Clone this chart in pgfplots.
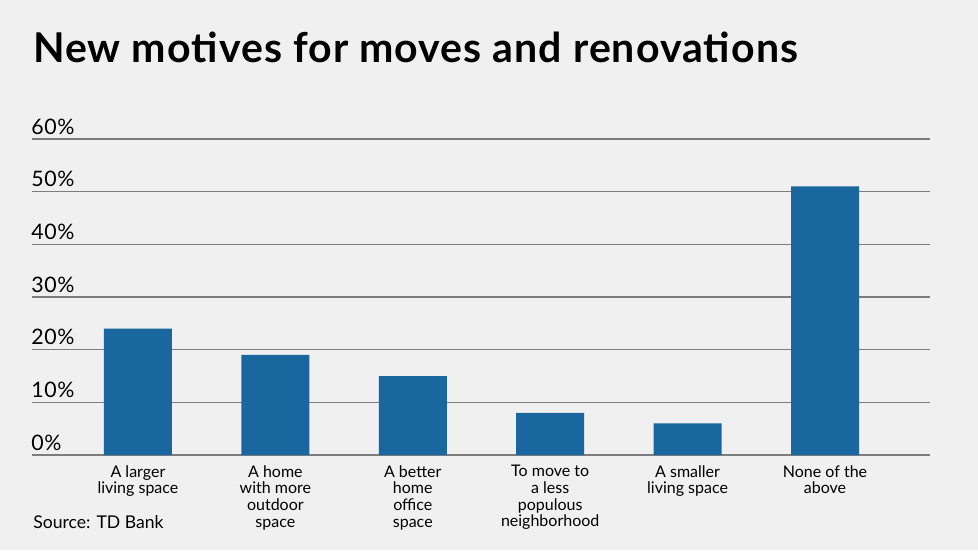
\documentclass[border=0pt]{standalone}
\usepackage{fontspec}
\setmainfont{Lato}
\newfontfamily\titlefont[LetterSpace=2.5]{Lato}
\newfontfamily\tickfont[LetterSpace=3]{Lato}
\usepackage{pgfplots}
\pgfplotsset{compat=1.18}
\definecolor{bg}{RGB}{239,240,239}
\definecolor{barblue}{RGB}{26,102,158}
\definecolor{gridgray}{RGB}{125,125,125}
\begin{document}
\begin{tikzpicture}
\fill[bg] (0,0) rectangle (733.5pt,412.5pt);
\node[anchor=base west, inner sep=0pt, font=\titlefont\fontsize{30.8}{34}\selectfont\bfseries] at (24.75pt,365.25pt) {New motives for moves and renovations};
\node[anchor=base west, inner sep=0pt, font=\fontsize{13.2}{15}\selectfont] at (24.75pt,16.5pt) {Source: TD Bank};
\begin{axis}[
  at={(24pt,71.25pt)}, anchor=south west,
  scale only axis, width=673.5pt, height=237pt,
  xmin=-0.771, xmax=5.764, ymin=0, ymax=60,
  ytick={0,10,20,30,40,50,60},
  xtick={0,1,2,3,4,5},
  xticklabels={{A larger\\living space},{A home\\with more\\outdoor\\space},{A better\\home\\office\\space},{To move to\\a less\\populous\\neighborhood},{A smaller\\living space},{None of the\\above}},
  xticklabel style={align=center, font=\fontsize{12}{12.5}\selectfont, anchor=north, inner sep=0pt, yshift=-7.5pt},
  yticklabel={\pgfmathparse{int(\tick)}\pgfmathresult\%},
  yticklabel style={anchor=base west, inner sep=0pt, yshift=3.75pt, xshift=-0.75pt, font=\tickfont\fontsize{16}{18}\selectfont},
  axis line style={draw=none},
  major tick length=0pt,
  ymajorgrids,
  grid style={gridgray, line width=0.9pt},
  ybar, bar width=51pt,
  clip=false,
]
\addplot[fill=barblue, draw=none] coordinates {(0,24) (1,19) (2,15) (3,8) (4,6) (5,51)};
\end{axis}
\pgfresetboundingbox
\path (0,0) rectangle (733.5pt,412.5pt);
\end{tikzpicture}
\end{document}
